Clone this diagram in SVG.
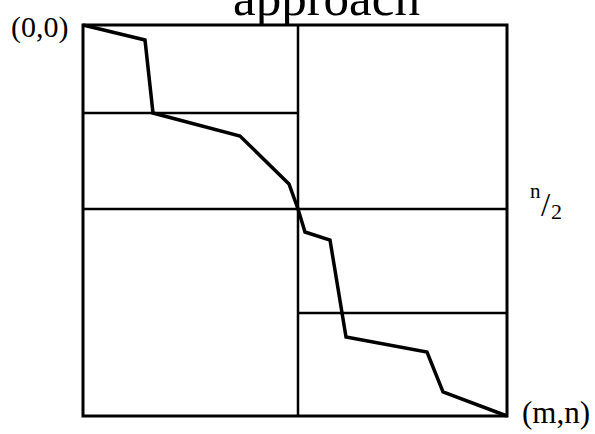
<svg xmlns="http://www.w3.org/2000/svg" width="595" height="434" viewBox="0 0 595 434">
<style>
.t{font-family:"Liberation Serif","Times New Roman",serif;fill:#000}
.g{stroke:#000;stroke-width:2.5;fill:none}
</style>
<rect width="595" height="434" fill="#fff"/>
<text class="t" x="233" y="15" font-size="51">approach</text>
<g id="grid">
<rect x="83" y="25" width="424" height="391" fill="none" stroke="#000" stroke-width="3"/>
<line class="g" x1="298" y1="25" x2="298" y2="416"/>
<line class="g" x1="83" y1="113" x2="298" y2="113"/>
<line class="g" x1="83" y1="209" x2="507" y2="209"/>
<line class="g" x1="298" y1="313" x2="507" y2="313"/>
</g>
<g id="connectors">
<polyline points="83,25 145,40 153,113 240,136 289,184 298,209 305,232 330,240 346,337 427,352 443,392 507,416" fill="none" stroke="#000" stroke-width="3.5" stroke-linejoin="miter"/>
</g>
<g id="labels">
<text class="t" x="11" y="37" font-size="30">(0,0)</text>
<text class="t" x="522" y="423" font-size="31">(m,n)</text>
<text class="t" x="530" y="198" font-size="21">n</text>
<text class="t" x="541" y="216" font-size="33">/</text>
<text class="t" x="551" y="219" font-size="22">2</text>
</g>
</svg>
